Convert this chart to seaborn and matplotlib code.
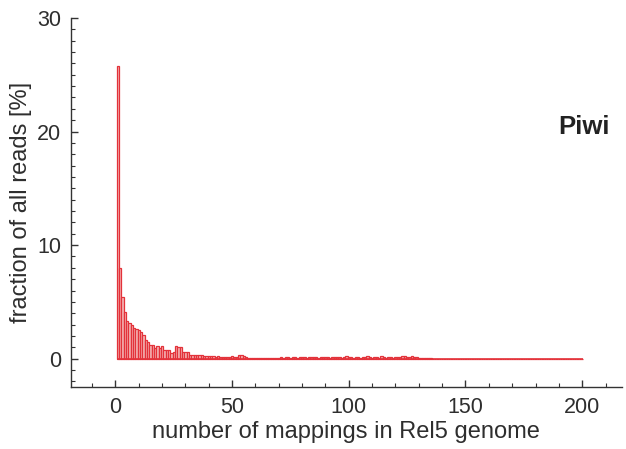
import numpy as np
import pandas as pd
import matplotlib
matplotlib.use("Agg")
import matplotlib.pyplot as plt
import seaborn as sns
from matplotlib.ticker import MultipleLocator

# number of genomic mappings (1..200)
mappings = list(range(1, 201))

# fraction of all reads [%] per mapping count
frac_head = [25.75, 7.98, 5.43, 4.1, 3.3, 3.14, 3.0, 2.7, 2.6, 2.5,
             2.35, 2.05, 1.67, 1.5, 1.23, 1.2, 0.93, 1.1, 0.95, 1.1,
             0.8, 0.75, 0.8, 0.5, 0.6, 1.1, 1.05, 1.05, 0.62, 0.57,
             0.55, 0.36, 0.36, 0.33, 0.3]
frac_mid = [0.3, 0.28, 0.25, 0.25, 0.22, 0.2, 0.2, 0.18, 0.2, 0.18,
            0.15, 0.18, 0.15, 0.15, 0.2, 0.15, 0.18, 0.3, 0.35, 0.25,
            0.15, 0.05, 0.04, 0.05, 0.06, 0.04, 0.03, 0.05, 0.04, 0.03,
            0.04, 0.05, 0.04, 0.03, 0.04]
frac_tail = [0.12, 0.1, 0.15, 0.12, 0.1, 0.14, 0.12, 0.1, 0.13, 0.15,
             0.12, 0.1, 0.14, 0.12, 0.16, 0.12, 0.1, 0.13, 0.15, 0.12,
             0.14, 0.1, 0.12, 0.18, 0.15, 0.12, 0.1, 0.14, 0.2, 0.15,
             0.12, 0.1, 0.14, 0.12, 0.1, 0.12, 0.15, 0.22, 0.15, 0.1,
             0.12, 0.14, 0.1, 0.2, 0.12, 0.1, 0.12, 0.14, 0.1, 0.12,
             0.15, 0.18, 0.2, 0.22, 0.18, 0.15, 0.2, 0.18, 0.12, 0.1,
             0.08, 0.06, 0.05, 0.04, 0.03]
fraction = frac_head + frac_mid + frac_tail
fraction = fraction + [0.0] * (len(mappings) - len(fraction))

xticks = [0, 50, 100, 150, 200]
yticks = [0, 10, 20, 30]

df = pd.DataFrame({"mappings": mappings, "fraction": fraction})

EDGE = "#e3323a"

sns.set_style("ticks")
plt.rcParams["font.family"] = ["Liberation Sans", "DejaVu Sans"]

fig = plt.figure(figsize=(6.26, 4.49), dpi=100)
ax = fig.add_axes([0.1134, 0.138, 0.88, 0.822])

sns.histplot(data=df, x="mappings", weights="fraction", discrete=True,
             shrink=1, element="bars", fill=True,
             color="#f4b4b4", edgecolor=EDGE, linewidth=0.9,
             alpha=1.0, ax=ax)
# baseline of the (zero-height) bars
ax.hlines(0, min(mappings) - 0.5, max(mappings) + 0.5, color=EDGE,
          linewidth=1.2, zorder=3)

ax.set_xlim(-19, 217)
ax.set_ylim(-2.5, 30)
ax.set_xticks(xticks)
ax.set_yticks(yticks)
ax.xaxis.set_minor_locator(MultipleLocator(10))
ax.yaxis.set_minor_locator(MultipleLocator(1))
ax.tick_params(which="major", direction="in", length=5, width=1,
               labelsize=15.5, color="#333333", labelcolor="#2e2e2e", pad=7)
ax.tick_params(which="minor", direction="in", length=3, width=0.8,
               color="#333333")
for s in ["top", "right"]:
    ax.spines[s].set_visible(False)
for s in ["left", "bottom"]:
    ax.spines[s].set_color("#333333")
    ax.spines[s].set_linewidth(1.0)

ax.set_xlabel("number of mappings in Rel5 genome", fontsize=17,
              color="#2e2e2e", labelpad=2)
ax.set_ylabel("fraction of all reads [%]", fontsize=17,
              color="#2e2e2e", labelpad=4)

ax.text(212, 20.4, "Piwi", ha="right", va="center", fontsize=18.5,
        fontweight="bold", color="#222222")

fig.savefig("out.png", dpi=100)
